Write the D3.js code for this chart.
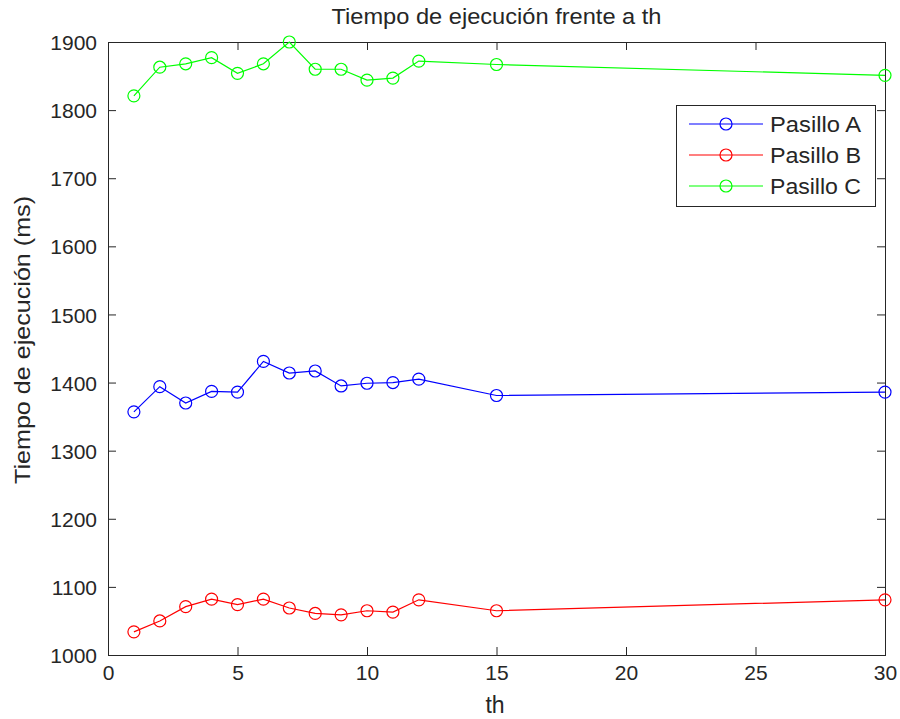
<!DOCTYPE html>
<html>
<head>
<meta charset="utf-8">
<script src="https://cdn.jsdelivr.net/npm/d3@7"></script>
<style>
body { margin: 0; background: #fff; }
text { font-family: "Liberation Sans", Arial, sans-serif; fill: #262626; }
</style>
</head>
<body>
<script>
// datos
var th = [1, 2, 3, 4, 5, 6, 7, 8, 9, 10, 11, 12, 15, 30];
var pasilloA = [1357, 1394, 1370, 1387, 1386, 1431, 1414, 1417, 1395, 1399, 1400, 1405, 1381, 1386];
var pasilloB = [1034, 1050, 1071, 1082, 1074, 1082, 1069, 1061, 1059, 1065, 1063, 1081, 1065, 1081];
var pasilloC = [1821, 1863, 1868, 1877, 1854, 1868, 1900, 1860, 1860, 1844, 1847, 1872, 1867, 1851];
var xTicks = [0, 5, 10, 15, 20, 25, 30];
var yTicks = [1000, 1100, 1200, 1300, 1400, 1500, 1600, 1700, 1800, 1900];
var nombres = ["Pasillo A", "Pasillo B", "Pasillo C"];
var colores = ["#0000ff", "#ff0000", "#00ff00"];

var w = 900;
var h = 719;
var pLeft = 108, pRight = 885, pTop = 42, pBottom = 655;
var fs = 21;

var svg = d3.select("body")
			.append("svg")
			.attr("width", w)
			.attr("height", h);

var x_scale = d3.scaleLinear().domain([0, 30]).range([pLeft, pRight]);
var y_scale = d3.scaleLinear().domain([1000, 1900]).range([pBottom, pTop]);

// ejes (ticks hacia dentro, caja completa)
var x_axis = d3.axisBottom(x_scale).tickValues(xTicks).tickSize(-8).tickPadding(10).tickFormat(d3.format("d"));
var y_axis = d3.axisLeft(y_scale).tickValues(yTicks).tickSize(-8).tickPadding(11).tickFormat(d3.format("d"));
var x_top = d3.axisTop(x_scale).tickValues(xTicks).tickSize(-8).tickFormat("");
var y_right = d3.axisRight(y_scale).tickValues(yTicks).tickSize(-8).tickFormat("");

function estilo(g) {
	g.select(".domain").remove();
	g.selectAll(".tick line").attr("stroke", "#262626");
	g.selectAll(".tick text").style("font-size", fs + "px").attr("fill", "#262626");
}

svg.append("g").attr("transform", "translate(0," + pBottom + ")").call(x_axis).call(estilo);
svg.append("g").attr("transform", "translate(" + pLeft + ",0)").call(y_axis).call(estilo)
	.selectAll(".tick text").attr("dy", "0.36em");
svg.append("g").attr("transform", "translate(0," + pTop + ")").call(x_top).call(estilo);
svg.append("g").attr("transform", "translate(" + pRight + ",0)").call(y_right).call(estilo);

svg.append("rect")
	.attr("x", pLeft + 0.5).attr("y", pTop + 0.5)
	.attr("width", pRight - pLeft).attr("height", pBottom - pTop)
	.attr("fill", "none").attr("stroke", "#262626").attr("stroke-width", 1);

var series = [pasilloA, pasilloB, pasilloC];
var linea = d3.line()
	.x(function(d, i) { return x_scale(th[i]); })
	.y(function(d) { return y_scale(d); });

series.forEach(function(s, k) {
	svg.append("path")
		.datum(s)
		.attr("d", linea)
		.attr("fill", "none")
		.attr("stroke", colores[k])
		.attr("stroke-width", 1.2);
	svg.selectAll(".m" + k)
		.data(s)
		.enter()
		.append("circle")
		.attr("class", "m" + k)
		.attr("cx", function(d, i) { return x_scale(th[i]); })
		.attr("cy", function(d) { return y_scale(d); })
		.attr("r", 6)
		.attr("fill", "none")
		.attr("stroke", colores[k])
		.attr("stroke-width", 1.2);
});

// leyenda
var leg = svg.append("g");
leg.append("rect")
	.attr("x", 676.5).attr("y", 105.5).attr("width", 199).attr("height", 101)
	.attr("fill", "#fff").attr("stroke", "#262626");
nombres.forEach(function(n, k) {
	var yy = 124 + k * 31;
	leg.append("line").attr("x1", 689).attr("x2", 763).attr("y1", yy).attr("y2", yy)
		.attr("stroke", colores[k]).attr("stroke-width", 1.2);
	leg.append("circle").attr("cx", 726).attr("cy", yy).attr("r", 6)
		.attr("fill", "none").attr("stroke", colores[k]).attr("stroke-width", 1.2);
	leg.append("text").attr("x", 770).attr("y", yy).attr("dy", "0.36em")
		.style("font-size", "22px")
		.attr("textLength", 91).attr("lengthAdjust", "spacingAndGlyphs")
		.text(n);
});

// titulos
svg.append("text")
	.attr("x", (pLeft + pRight) / 2).attr("y", 24)
	.attr("text-anchor", "middle")
	.style("font-size", "22px")
	.attr("textLength", 330).attr("lengthAdjust", "spacingAndGlyphs")
	.text("Tiempo de ejecución frente a th");

svg.append("text")
	.attr("x", 495).attr("y", 713)
	.attr("text-anchor", "middle")
	.style("font-size", "23px")
	.text("th");

svg.append("text")
	.attr("transform", "translate(30,340) rotate(-90)")
	.attr("text-anchor", "middle")
	.style("font-size", "22px")
	.attr("textLength", 288).attr("lengthAdjust", "spacingAndGlyphs")
	.text("Tiempo de ejecución (ms)");
</script>
</body>
</html>
